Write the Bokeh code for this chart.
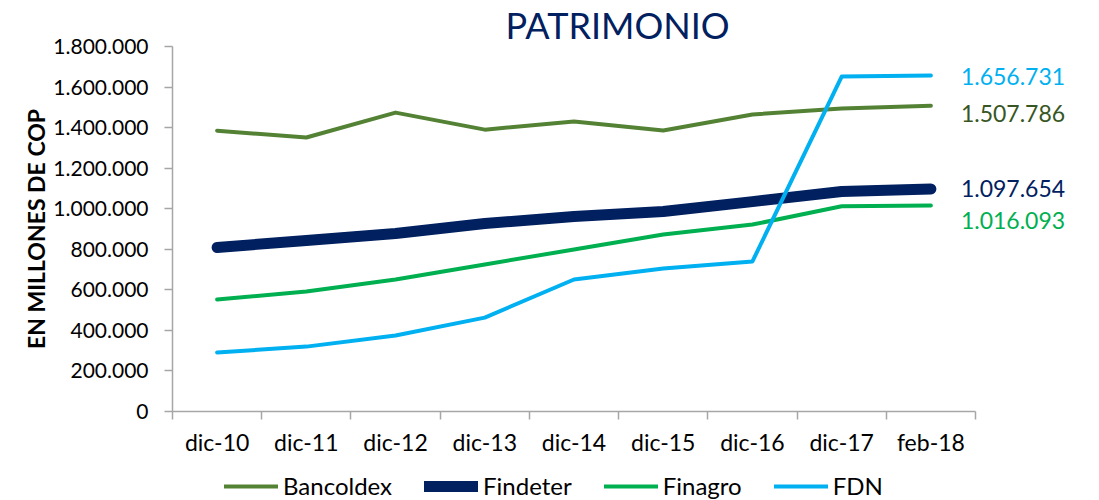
from bokeh.plotting import figure
from bokeh.layouts import column
from bokeh.models import (ColumnDataSource, FixedTicker, Range1d, Legend, LegendItem)
from bokeh.core.properties import value
from bokeh.embed import file_html
from bokeh.resources import INLINE

categories = ["dic-10", "dic-11", "dic-12", "dic-13", "dic-14", "dic-15", "dic-16", "dic-17", "feb-18"]
bancoldex = [1385000, 1351000, 1474000, 1390000, 1430000, 1386000, 1465000, 1494000, 1507786]
findeter = [809000, 843000, 878000, 927000, 962000, 986000, 1035000, 1085000, 1097654]
finagro = [552000, 592000, 651000, 725000, 799000, 873000, 922000, 1012000, 1016093]
fdn = [291000, 320000, 375000, 463000, 651000, 705000, 740000, 1652000, 1656731]
y_ticks = [0, 200000, 400000, 600000, 800000, 1000000, 1200000, 1400000, 1600000, 1800000]

def fmt(v):
    return f"{v:,}".replace(",", ".")

FONT = "Lato"
n = len(categories)
xs = [i + 0.5 for i in range(n)]
y_max = y_ticks[-1]

W, H = 1099, 463
LEFT, RIGHT, TOP, BOTTOM = 172, 5, 46, 52
frame_w = W - LEFT - RIGHT
axis_px = 803       # pixel length of the category axis

p = figure(width=W, height=H, output_backend="svg", toolbar_location=None,
           x_range=Range1d(0, n * frame_w / axis_px),
           y_range=Range1d(0, y_max),
           min_border_left=LEFT, min_border_right=RIGHT, min_border_top=TOP,
           min_border_bottom=BOTTOM)
p.outline_line_color = None
p.xgrid.grid_line_color = None
p.ygrid.grid_line_color = None
p.background_fill_color = "white"
p.border_fill_color = "white"

p.title.text = "PATRIMONIO"
p.title.text_font = FONT
p.title.text_font_size = "36px"
p.title.text_font_style = "normal"
p.title.text_color = "#002060"
p.title.align = "left"
p.title.offset = 333
p.title.standoff = 0

series = [
    ("Bancoldex", bancoldex, "#548235", 4),
    ("Findeter", findeter, "#002060", 11),
    ("Finagro", finagro, "#00B050", 4),
    ("FDN", fdn, "#00B0F0", 4),
]
for name, vals, col, w in series:
    p.line(xs, vals, line_color=col, line_width=w, line_cap="round", line_join="round")

# end labels
lab_colors = ["#00B0F0", "#375623", "#002060", "#00B050"]
lab_vals = [fdn[-1], bancoldex[-1], findeter[-1], finagro[-1]]
lab_dy = [1, 8, 0, 15]
src = ColumnDataSource(dict(x=[xs[-1]] * 4, y=lab_vals, t=[fmt(v) for v in lab_vals],
                            c=lab_colors, dy=lab_dy))
p.text(x="x", y="y", text="t", text_color="c", source=src, x_offset=30, y_offset="dy",
       text_font=value(FONT), text_font_size="23px", text_baseline="middle", text_align="left")

# x axis
xa = p.xaxis[0]
xa.bounds = (0, n)
xa.ticker = FixedTicker(ticks=xs, minor_ticks=list(range(n + 1)))
xa.major_label_overrides = {x: c for x, c in zip(xs, categories)}
xa.major_tick_line_color = None
xa.minor_tick_line_color = "#A6A6A6"
xa.minor_tick_out = 8
xa.minor_tick_in = 0
xa.axis_line_color = "#A6A6A6"
xa.axis_line_width = 1.5
xa.minor_tick_line_width = 1.5
xa.major_label_text_font = FONT
xa.major_label_text_font_size = "23px"
xa.major_label_text_color = "black"
xa.major_label_standoff = 8

# y axis
ya = p.yaxis[0]
ya.ticker = FixedTicker(ticks=y_ticks)
ya.major_label_overrides = {v: fmt(v) for v in y_ticks}
ya.minor_tick_line_color = None
ya.major_tick_out = 8
ya.major_tick_in = 0
ya.major_tick_line_color = "#A6A6A6"
ya.major_tick_line_width = 1.5
ya.axis_line_color = "#A6A6A6"
ya.axis_line_width = 1.5
ya.major_label_text_font = FONT
ya.major_label_text_font_size = "21px"
ya.major_label_text_color = "black"
ya.major_label_standoff = 16
ya.axis_label = "EN MILLONES DE COP"
ya.axis_label_text_font = FONT
ya.axis_label_text_font_style = "bold"
ya.axis_label_text_font_size = "23px"
ya.axis_label_text_color = "black"
ya.axis_label_standoff = 0

# legend strip below the chart (same series, drawn outside its visible range)
p2 = figure(width=W, height=500 - H, output_backend="svg", toolbar_location=None,
            x_range=Range1d(0, 1), y_range=Range1d(-2, -1),
            min_border_left=0, min_border_right=0, min_border_top=0, min_border_bottom=0,
            x_axis_type=None, y_axis_type=None)
p2.outline_line_color = None
p2.xgrid.grid_line_color = None
p2.ygrid.grid_line_color = None
items = []
for name, vals, col, w in series:
    r = p2.line(xs, vals, line_color=col, line_width=w, line_cap="round")
    items.append(LegendItem(label=name, renderers=[r]))
legend = Legend(items=items, orientation="horizontal", location=(52, 0),
                label_text_font=FONT, label_text_font_size="24px", label_text_color="black",
                glyph_width=54, glyph_height=20, label_standoff=5, spacing=32,
                padding=0, margin=0, border_line_color=None, background_fill_alpha=0)
p2.add_layout(legend)

layout = column(p, p2, spacing=0)
open("out.html", "w").write(file_html(layout, INLINE))
